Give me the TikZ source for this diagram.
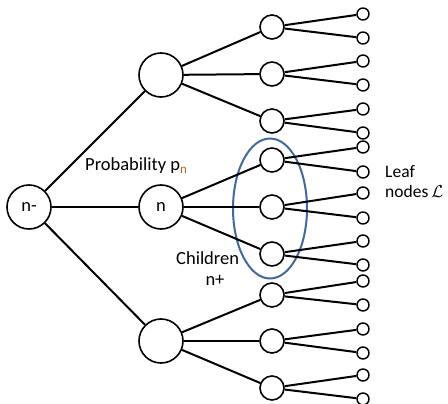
\documentclass[tikz,border=0pt]{standalone}
\usepackage{fontspec}
\setmainfont{Carlito}
\begin{document}
\begin{tikzpicture}[x=1pt,y=-1pt,
  bignode/.style={circle,draw=black,line width=1.6pt,fill=white,minimum size=44pt,inner sep=0pt,font=\fontsize{18.5}{22}\selectfont},
  midnode/.style={circle,draw=black,line width=1.6pt,fill=white,minimum size=24pt,inner sep=0pt},
  leafnode/.style={circle,draw=black,line width=1.4pt,fill=white,minimum size=12pt,inner sep=0pt},
  edge/.style={line width=2pt,black},
  lbl/.style={inner sep=0pt,font=\fontsize{18.5}{22}\selectfont},
  leaflbl/.style={inner sep=0pt,font=\fontsize{17.5}{20}\selectfont}]
\useasboundingbox (0,0) rectangle (448,404);
\definecolor{ellblue}{RGB}{65,105,160}
\definecolor{subor}{RGB}{185,95,40}
% blue ellipse
\draw[ellblue,line width=2pt] (270,208.5) ellipse [x radius=37,y radius=70];
% nodes
\node[bignode] (r) at (29,207) {n-};
\node[bignode] (a) at (161,75) {};
\node[bignode] (b) at (161,207) {n};
\node[bignode] (c) at (161,341) {};
\foreach \i/\y in {1/27,2/74,3/121,4/160,5/207,6/254,7/295,8/341,9/388}{
  \node[midnode] (m\i) at (272,\y) {};
}
\foreach \i/\ya/\yb in {1/14/38,2/61/85,3/109/133,4/147/172,5/193/218,6/241/265,7/281/305,8/329/353,9/375/399}{
  \node[leafnode] (l\i a) at (363,\ya) {};
  \node[leafnode] (l\i b) at (363,\yb) {};
}
% edges
\draw[edge] (r) -- (a);
\draw[edge] (r) -- (b);
\draw[edge] (r) -- (c);
\foreach \p/\s in {a/1,a/2,a/3,b/4,b/5,b/6,c/7,c/8,c/9}{
  \draw[edge] (\p) -- (m\s);
}
\foreach \i in {1,...,9}{
  \draw[edge] (m\i) -- (l\i a);
  \draw[edge] (m\i) -- (l\i b);
}
% labels
\node[lbl,anchor=base west] (prob) at (85,171) {Probability p\textsubscript{\color{subor}n}};
\node[lbl,anchor=base west] (chil) at (176,265) {Children};
\node[lbl,anchor=base] (nplus) at (215,285) {n+};
\node[leaflbl,anchor=base west] (leaf) at (385,178) {Leaf};
\node[leaflbl,anchor=base west] (nodes) at (385,197) {nodes\,$\mathcal{L}$};
\end{tikzpicture}
\end{document}
